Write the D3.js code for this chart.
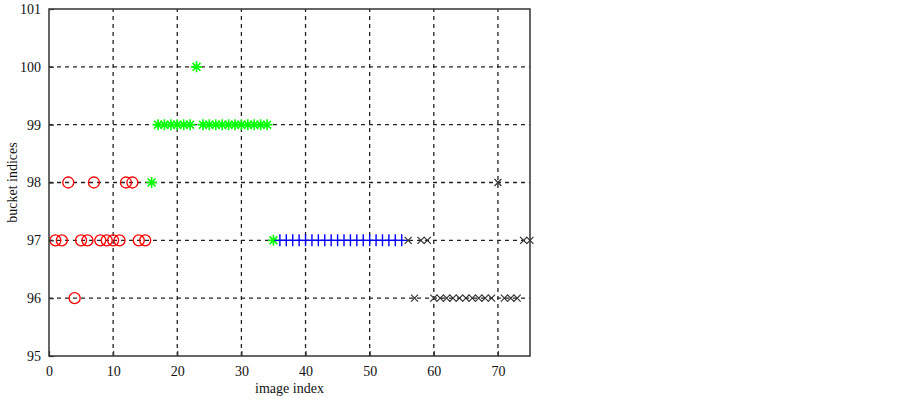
<!DOCTYPE html>
<html>
<head>
<meta charset="utf-8">
<script src="https://cdn.jsdelivr.net/npm/d3@7"></script>
<style>
  body { margin: 0; background: #fff; }
  svg { display: block; font-family: "Liberation Serif", "DejaVu Serif", serif; }
</style>
</head>
<body>
<svg id="chart" width="903" height="399"></svg>
<script>
(function () {
    // image index -> bucket index, one array pair per marker group
    var redX = [1, 2, 3, 4, 5, 6, 7, 8, 9, 10, 11, 12, 13, 14, 15];
    var redY = [97, 97, 98, 96, 97, 97, 98, 97, 97, 97, 97, 98, 98, 97, 97];

    var greenX = [16, 17, 18, 19, 20, 21, 22, 23, 24, 25, 26, 27, 28, 29, 30, 31, 32, 33, 34, 35];
    var greenY = [98, 99, 99, 99, 99, 99, 99, 100, 99, 99, 99, 99, 99, 99, 99, 99, 99, 99, 99, 97];

    var blueX = [36, 37, 38, 39, 40, 41, 42, 43, 44, 45, 46, 47, 48, 49, 50, 51, 52, 53, 54, 55];
    var blueY = [97, 97, 97, 97, 97, 97, 97, 97, 97, 97, 97, 97, 97, 97, 97, 97, 97, 97, 97, 97];

    var blackX = [56, 57, 58, 59, 60, 61, 62, 63, 64, 65, 66, 67, 68, 69, 70, 71, 72, 73, 74, 75];
    var blackY = [97, 96, 97, 97, 96, 96, 96, 96, 96, 96, 96, 96, 96, 96, 98, 96, 96, 96, 97, 97];

    var xTicks = [0, 10, 20, 30, 40, 50, 60, 70];
    var yTicks = [95, 96, 97, 98, 99, 100, 101];

    var left = 49, right = 530, top = 9, bottom = 356;

    var svg = d3.select('#chart');

    var x = d3.scaleLinear().domain([0, 75]).range([left, right]);
    var y = d3.scaleLinear().domain([95, 101]).range([bottom, top]);

    // grid
    var grid = svg.append('g')
        .attr('stroke', '#222')
        .attr('stroke-width', 1.3)
        .attr('stroke-dasharray', '4,4');

    grid.selectAll('line.vx')
        .data(xTicks.slice(1))
        .enter()
        .append('line')
            .attr('x1', function (d) { return x(d); })
            .attr('x2', function (d) { return x(d); })
            .attr('y1', bottom)
            .attr('y2', top);

    grid.selectAll('line.hy')
        .data(yTicks.slice(1, -1))
        .enter()
        .append('line')
            .attr('y1', function (d) { return y(d); })
            .attr('y2', function (d) { return y(d); })
            .attr('x1', left)
            .attr('x2', right);

    function pts(xs, ys) {
        return xs.map(function (v, i) { return [v, ys[i]]; });
    }

    // red circles
    svg.append('g').selectAll('circle')
        .data(pts(redX, redY))
        .enter()
        .append('circle')
            .attr('cx', function (d) { return x(d[0]); })
            .attr('cy', function (d) { return y(d[1]); })
            .attr('r', 5.5)
            .attr('fill', 'none')
            .attr('stroke', '#ff0000')
            .attr('stroke-width', 1.3);

    // green asterisks
    var s = 5.5;
    var d45 = s * 0.72;
    svg.append('g').selectAll('path')
        .data(pts(greenX, greenY))
        .enter()
        .append('path')
            .attr('transform', function (d) { return 'translate(' + x(d[0]) + ',' + y(d[1]) + ')'; })
            .attr('d', 'M' + (-s) + ',0H' + s + 'M0,' + (-s) + 'V' + s +
                'M' + (-d45) + ',' + (-d45) + 'L' + d45 + ',' + d45 +
                'M' + (-d45) + ',' + d45 + 'L' + d45 + ',' + (-d45))
            .attr('stroke', '#00ff00')
            .attr('stroke-width', 1.6)
            .attr('fill', 'none');

    // blue plus
    svg.append('g').selectAll('path')
        .data(pts(blueX, blueY))
        .enter()
        .append('path')
            .attr('transform', function (d) { return 'translate(' + x(d[0]) + ',' + y(d[1]) + ')'; })
            .attr('d', 'M-5.5,0H5.5M0,-6V6')
            .attr('stroke', '#0000ff')
            .attr('stroke-width', 1.4)
            .attr('fill', 'none');

    // black crosses
    svg.append('g').selectAll('path')
        .data(pts(blackX, blackY))
        .enter()
        .append('path')
            .attr('transform', function (d) { return 'translate(' + x(d[0]) + ',' + y(d[1]) + ')'; })
            .attr('d', 'M-3.5,-3.5L3.5,3.5M-3.5,3.5L3.5,-3.5')
            .attr('stroke', '#333')
            .attr('stroke-width', 1.2)
            .attr('fill', 'none');

    // axes
    var xAxis = d3.axisBottom(x).tickValues(xTicks).tickFormat(d3.format('d')).tickSize(-5).tickPadding(10);
    var yAxis = d3.axisLeft(y).tickValues(yTicks).tickFormat(d3.format('d')).tickSize(-5).tickPadding(8);

    var gx = svg.append('g')
        .attr('transform', 'translate(0,' + bottom + ')')
        .call(xAxis);
    var gy = svg.append('g')
        .attr('transform', 'translate(' + left + ',0)')
        .call(yAxis);

    [gx, gy].forEach(function (g) {
        g.select('.domain').remove();
        g.selectAll('.tick line').attr('stroke', '#333').attr('stroke-width', 1.2);
        g.selectAll('.tick text')
            .attr('font-family', '"Liberation Serif", serif')
            .attr('font-size', 14)
            .attr('fill', '#111');
    });

    // box
    svg.append('rect')
        .attr('x', left)
        .attr('y', top)
        .attr('width', right - left)
        .attr('height', bottom - top)
        .attr('fill', 'none')
        .attr('stroke', '#333')
        .attr('stroke-width', 1.5);

    svg.append('text')
        .attr('x', (left + right) / 2)
        .attr('y', 393)
        .attr('text-anchor', 'middle')
        .attr('font-size', 14)
        .attr('fill', '#111')
        .text('image index');

    svg.append('text')
        .attr('transform', 'translate(17,' + ((top + bottom) / 2) + ') rotate(-90)')
        .attr('text-anchor', 'middle')
        .attr('font-size', 14)
        .attr('fill', '#111')
        .text('bucket indices');
})();
</script>
</body>
</html>
